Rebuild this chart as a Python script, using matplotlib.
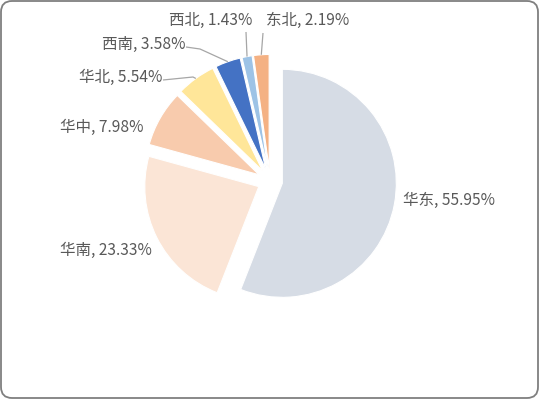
import numpy as np
import matplotlib
matplotlib.use("Agg")
import matplotlib.pyplot as plt
from matplotlib.patches import FancyBboxPatch

plt.rcParams['font.family'] = ['Noto Sans CJK SC', 'DejaVu Sans']

regions = ["华东", "华南", "华中", "华北", "西南", "西北", "东北"]
shares = [55.95, 23.33, 7.98, 5.54, 3.58, 1.43, 2.19]
colors = ["#d6dce5", "#fbe5d6", "#f8cbad", "#ffe699", "#4472c4", "#9dc3e6", "#f4b183"]

W, H, DPI = 539, 399, 100
fig = plt.figure(figsize=(W / DPI, H / DPI), dpi=DPI)
fig.patch.set_facecolor("white")

# rounded frame around the chart area
frame = FancyBboxPatch((1.0 / DPI, 1.0 / DPI), (W - 2.0) / DPI, (H - 2.0) / DPI,
                       boxstyle="round,pad=0,rounding_size=0.11",
                       transform=fig.dpi_scale_trans, facecolor="none",
                       edgecolor="#7f7f7f", linewidth=1.3, zorder=5)
fig.patches.append(frame)

# pie axes: 1 data unit = R pixels, centre at (cx, cy) in pixel coords (from top)
R, cx, cy = 114.0, 270.0, 181.0
ax = fig.add_axes([0, 0, 1, 1])
ax.axis("off")
ax.patch.set_alpha(0)

def px(x, y):
    return ((x - cx) / R, (cy - y) / R)

wedges, _ = ax.pie(shares, colors=colors, startangle=90, counterclock=False,
                   explode=[0.11] * len(shares), radius=1.0,
                   wedgeprops=dict(edgecolor="white", linewidth=0.8))
ax.set_aspect("auto")
ax.set_xlim(-cx / R, (W - cx) / R)
ax.set_ylim(-(H - cy) / R, cy / R)

labels = [f"{r}, {v:.2f}%" for r, v in zip(regions, shares)]
text_color = "#595959"
line_color = "#a6a6a6"
fs = 11.2

# label anchors (x, y in pixels, alignment) and leader-line start points
label_specs = {
    "华东": ((403, 200), "left", None),
    "华南": ((60, 250), "left", None),
    "华中": ((60, 127), "left", None),
    "华北": ((162, 77), "right", [(163, 80), (193, 77)]),
    "西南": ((185, 44), "right", [(186, 47), (200, 49)]),
    "西北": ((211, 20), "center", [(246, 32)]),
    "东北": ((266, 20), "left", [(263, 33)]),
}

for w, name, lab in zip(wedges, regions, labels):
    (tx, ty), ha, pts = label_specs[name]
    x, y = px(tx, ty)
    ax.text(x, y, lab, ha=ha, va="center", fontsize=fs, color=text_color)
    if pts:
        mid = np.deg2rad((w.theta1 + w.theta2) / 2)
        ox, oy = w.center
        end = (ox + w.r * np.cos(mid), oy + w.r * np.sin(mid))
        path = [px(*p) for p in pts] + [end]
        xs, ys = zip(*path)
        ax.plot(xs, ys, color=line_color, linewidth=0.9, solid_capstyle="butt")

fig.savefig("out.png", dpi=DPI)
